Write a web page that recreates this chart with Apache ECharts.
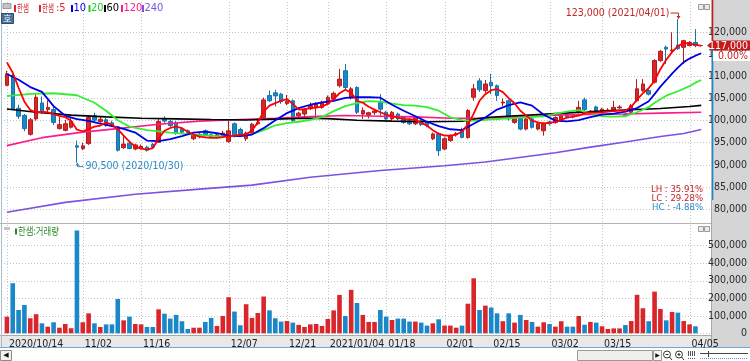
<!DOCTYPE html>
<html><head><meta charset="utf-8">
<script src="https://cdn.jsdelivr.net/npm/echarts@6/dist/echarts.min.js"></script>
<style>html,body{margin:0;padding:0;background:#fff;}#c{width:750px;height:361px;}</style>
</head><body><div id="c"></div>
<script>
// ---------------- DATA ----------------
const dates = [
'2020/10/14','2020/10/15','2020/10/16','2020/10/19','2020/10/20','2020/10/21','2020/10/22','2020/10/23','2020/10/26','2020/10/27','2020/10/28','2020/10/29','2020/10/30',
'2020/11/02','2020/11/03','2020/11/04','2020/11/05','2020/11/06','2020/11/09','2020/11/10','2020/11/11','2020/11/12','2020/11/13','2020/11/16','2020/11/17','2020/11/18','2020/11/19','2020/11/20','2020/11/23','2020/11/24','2020/11/25','2020/11/26','2020/11/27','2020/11/30',
'2020/12/01','2020/12/02','2020/12/03','2020/12/04','2020/12/07','2020/12/08','2020/12/09','2020/12/10','2020/12/11','2020/12/14','2020/12/15','2020/12/16','2020/12/17','2020/12/18','2020/12/21','2020/12/22','2020/12/23','2020/12/24','2020/12/28','2020/12/29','2020/12/30',
'2021/01/04','2021/01/05','2021/01/06','2021/01/07','2021/01/08','2021/01/11','2021/01/12','2021/01/13','2021/01/14','2021/01/15','2021/01/18','2021/01/19','2021/01/20','2021/01/21','2021/01/22','2021/01/25','2021/01/26','2021/01/27','2021/01/28','2021/01/29',
'2021/02/01','2021/02/02','2021/02/03','2021/02/04','2021/02/05','2021/02/08','2021/02/09','2021/02/10','2021/02/15','2021/02/16','2021/02/17','2021/02/18','2021/02/19','2021/02/22','2021/02/23','2021/02/24','2021/02/25','2021/02/26',
'2021/03/02','2021/03/03','2021/03/04','2021/03/05','2021/03/08','2021/03/09','2021/03/10','2021/03/11','2021/03/12','2021/03/15','2021/03/16','2021/03/17','2021/03/18','2021/03/19','2021/03/22','2021/03/23','2021/03/24','2021/03/25','2021/03/26','2021/03/29','2021/03/30','2021/03/31',
'2021/04/01','2021/04/02','2021/04/05','2021/04/06','2021/04/07'];

const opens = [108000,110200,102800,101200,96900,100400,104000,102500,102500,98200,97800,98500,94300,93700,94800,101100,99800,100200,99500,98600,
93900,94900,93600,93800,94000,94600,95100,100400,99800,99600,98100,97700,95900,96500,97700,96800,96300,96500,95300,99300,
98000,95900,97100,99300,100700,105700,106300,106000,103900,104500,101100,101500,102700,103000,103000,103800,104900,107900,111300,105300,
107500,101500,101200,101800,104100,101900,100400,101500,100700,100000,99300,100000,99600,95900,97000,93600,95500,96800,97700,96200,
105300,109000,106800,108700,107900,104000,104500,99600,100800,98100,100400,98100,97700,99700,99600,100000,101400,101100,101900,104700,
101700,103100,101900,102200,102300,102900,101500,101900,104500,106800,106800,108700,113600,116600,115800,117100,116600,117000,117700,117000];
const closes = [110600,102700,101000,98200,100200,105300,102000,103000,99600,99100,99300,99800,94000,94300,100700,100100,100300,99000,99000,93300,
94700,93700,94500,94200,93300,94000,99800,99900,98900,97200,97400,97300,96800,96900,96700,96400,96800,97200,97700,96600,
96800,97200,99200,99600,104700,104500,105600,104300,104400,100000,101700,102600,103400,103800,104100,105300,106200,109400,107500,107200,
101900,102300,101800,102200,102600,100400,101900,100400,99600,99300,100700,99100,98900,97000,93200,95900,96600,97100,96200,102300,
107200,107000,108300,107900,105700,104200,100400,100800,98100,100400,98500,99300,99300,99300,100700,101100,100900,100800,103000,102500,
102000,102300,102600,102400,103000,103100,101100,103400,107200,108300,106000,113600,115700,116200,116000,116300,118100,117700,117000,117000];
const lows = [107800,102400,100400,97600,96600,100000,101500,101700,99000,98000,97600,98200,90500,93300,94500,99800,99500,98600,98600,93000,
93600,93500,93300,93500,93000,93700,95000,99500,98600,96800,97000,96900,95600,96000,96400,96100,96000,96100,95000,96200,
96400,95400,96800,99000,100300,104200,103200,103800,103500,99500,100700,100500,102400,100500,102700,103500,104600,107500,107000,104800,
101500,100400,100500,101300,100800,100100,100100,100100,99300,99000,99000,98800,98500,95600,92000,93300,95200,96400,96000,95900,
104500,106500,106300,106000,104500,103300,100000,99300,97800,97800,98200,97800,96600,98900,99300,99700,100500,100500,101600,102200,
101400,102000,101600,101900,102000,102600,100800,101600,104200,106500,105700,108400,113300,112800,115500,116000,112800,116800,116600,117000];
const highs = [111300,110600,103600,101500,100600,106000,105500,104600,103500,100800,100200,100600,95500,95000,101200,101800,100800,100600,100000,98800,
96500,95200,94800,94600,94300,95000,100400,101000,100200,99900,98500,98000,97100,97200,98000,97100,97100,97700,100000,99600,
98400,97500,99500,100600,105200,106800,107000,106300,105800,104800,102000,102900,104100,104200,104500,105700,106600,111700,112800,107600,
107800,103000,102000,102500,106000,102200,102200,101800,101000,100300,101000,100300,99900,97300,97300,96200,96900,97400,98400,102600,
108300,109600,109200,110600,108200,105000,104800,101200,101000,100800,100700,99600,99600,100000,101000,101400,101700,101400,104500,105200,
102400,103400,102900,102800,104500,103500,101800,103800,109400,109400,107200,113900,116000,117000,120000,123000,118300,118000,120700,117000];
const volumes = [95000,286000,133000,162000,86000,109000,57000,38000,63000,32000,53000,29000,587000,63000,114000,57000,36000,51000,51000,196000,
74000,95000,53000,51000,36000,36000,137000,112000,84000,105000,69000,25000,32000,32000,65000,88000,42000,99000,206000,124000,
46000,166000,88000,116000,210000,131000,86000,67000,70000,61000,48000,36000,51000,53000,42000,82000,131000,219000,99000,248000,
173000,105000,65000,65000,133000,95000,76000,84000,84000,67000,67000,61000,44000,57000,80000,44000,44000,32000,44000,169000,
314000,133000,158000,147000,114000,69000,114000,61000,105000,76000,65000,38000,63000,53000,38000,69000,38000,38000,99000,49000,
65000,61000,40000,25000,28000,28000,47000,70000,220000,143000,69000,238000,139000,74000,122000,118000,70000,51000,40000,0];

// moving averages ([date index, value])
const ma5 = [113200,110850,107450,104300,102400,101900,102000,101900,101500,101100,100800,100000,97950,97600,98100,98650,98900,99550,99100,98100,
96600,95250,94100,93650,93450,93800,95900,97700,98350,98650,98300,97500,96850,96400,96200,96100,96100,96250,96500,96600,
96850,96850,97750,99600,102050,103400,103950,104500,104900,103800,102500,102600,102850,102950,103200,103800,104900,106200,107000,106350,
104500,104050,103150,102500,101900,101350,101000,100700,100400,100350,100100,99550,98850,97850,97050,96600,96600,96850,97500,99100,
101600,104500,106000,106900,107150,106450,105100,103950,102250,101150,100000,99600,99400,99550,99650,100200,100700,100900,101150,101700,
101800,101800,101900,102050,102150,102250,102250,103150,104750,106200,107350,109050,111650,113800,115500,116850,117650,117400,117200,116950];
const ma10 = [[0,110550],[2,109250],[4,107600],[6,106500],[8,103300],[10,101100],[12,100350],[14,99950],[16,99350],[18,98750],[20,98150],[22,97300],[24,95500],[26,95350],[28,95800],[30,96500],[32,97300],[34,97500],[36,97150],[38,96600],[40,96500],[42,96850],[44,98300],[46,100100],[48,101700],[50,102850],[52,103600],[54,104150],[56,104500],[58,105150],[60,105300],[62,105300],[64,105200],[66,103600],[68,102250],[70,101000],[72,99750],[74,98750],[76,98050],[78,97850],[80,99300],[82,100700],[84,102500],[86,103500],[88,104150],[90,103400],[92,101350],[94,100000],[96,99850],[98,100100],[100,100800],[102,101350],[104,101600],[106,102050],[108,102850],[110,104400],[111,106000],[112,107700],[113,109150],[114,110650],[115,112000],[116,113250],[117,114050],[118,114700],[119,115250]];
const ma20 = [[0,105550],[4,106050],[8,106200],[12,105750],[15,104050],[17,102250],[19,100100],[21,98650],[24,97850],[28,97300],[32,96850],[36,96500],[40,96500],[42,96950],[44,97850],[46,98950],[48,99450],[50,99750],[52,100200],[54,100800],[56,102150],[58,103300],[60,103950],[62,104400],[64,104300],[66,103850],[68,103500],[70,103400],[72,103050],[74,102250],[76,100750],[78,100100],[80,100000],[84,100350],[88,100700],[92,101000],[96,102050],[98,102400],[100,101700],[102,101000],[104,100900],[106,101000],[108,101900],[110,103050],[111,104050],[112,104850],[113,105650],[115,106650],[117,107800],[118,108600],[119,109200]];
const ma60 = [[0,102650],[5,101900],[11,101250],[17,100850],[23,100550],[29,100400],[35,100250],[41,100150],[46,100350],[51,100550],[55,100450],[60,100100],[66,99900],[72,99750],[78,99850],[82,100700],[88,101150],[94,101600],[100,102050],[106,102400],[112,102750],[117,103200],[119,103450]];
const ma120 = [[0,94350],[6,96150],[13,97400],[19,98200],[26,99200],[33,99900],[40,100250],[46,100550],[52,100900],[58,101150],[64,101000],[70,100850],[76,100550],[82,100550],[88,100900],[94,101250],[100,101400],[106,101500],[112,101700],[119,101900]];
const ma240 = [[0,79250],[10,81500],[22,83350],[33,84500],[42,85400],[52,87200],[64,88700],[75,89800],[82,90650],[94,92750],[100,94000],[106,95150],[112,96400],[116,97100],[119,98000]];

const tickDates = ['2020/10/14','2020/11/02','2020/11/16','2020/12/07','2020/12/21','2021/01/04','2021/01/18','2021/02/01','2021/02/15','2021/03/02','2021/03/15','2021/04/05'];
const tickTexts = ['2020/10/14','11/02','11/16','12/07','12/21','2021/01/04','01/18','02/01','02/15','03/02','03/15','04/05'];

// ---------------- STYLE ----------------
const FN = '"Liberation Sans Narrow","DejaVu Sans Condensed","Arial Narrow",sans-serif';
const KR = '"Noto Sans CJK KR","Noto Sans CJK SC",sans-serif';
const UP = '#d8262b', UPB = '#b31c1c', DN = '#1a88c8', DNB = '#1674ad';
const C5 = '#ff0000', C10 = '#0000e6', C20 = '#33ee33', C60 = '#000000', C120 = '#ff1a8c', C240 = '#7b52e2';
const GRID = '#c4c4c4';
const fmt = v => v.toLocaleString('en-US');

const cats = dates.concat(['']);
const candleData = dates.map((d, i) => [opens[i], closes[i], lows[i], highs[i]]);
const volData = volumes.map((v, i) => ({ value: v, itemStyle: { color: closes[i] >= opens[i] ? UP : DN } }));

const chart = echarts.init(document.getElementById('c'), null, { renderer: 'canvas' });

const yLabel = { color: '#2a2a2a', fontSize: 10.5, fontFamily: FN, align: 'right', margin: 37, formatter: v => fmt(v) };
const maLine = (name, data, color, w, z) => ({
  name, type: 'line', xAxisIndex: 0, yAxisIndex: 0, data, showSymbol: false, symbol: 'none',
  lineStyle: { color, width: w }, z, silent: true, animation: false
});

chart.setOption({
  animation: false,
  backgroundColor: '#ffffff',
  grid: [
    { left: 4, top: 10.2, width: 707, height: 220.9 },
    { left: 4, top: 228.2, width: 707, height: 105.1 }
  ],
  xAxis: [
    { type: 'category', gridIndex: 0, data: cats, boundaryGap: true, axisLine: { show: false }, axisTick: { show: false }, axisLabel: { show: false }, splitLine: { show: false } },
    { type: 'category', gridIndex: 1, data: cats, boundaryGap: true, axisLine: { show: false }, axisTick: { show: false }, splitLine: { show: false },
      axisLabel: { interval: (i, v) => tickDates.indexOf(v) >= 0, formatter: v => tickTexts[tickDates.indexOf(v)], align: 'left', padding: [0, 0, 0, 2], margin: 5, fontSize: 10.5, fontFamily: FN, color: '#222' } }
  ],
  yAxis: [
    { type: 'value', gridIndex: 0, position: 'right', min: 75000, max: 125000, interval: 5000, scale: false,
      axisLine: { show: false }, axisTick: { show: false },
      axisLabel: Object.assign({ showMinLabel: false, showMaxLabel: false }, yLabel),
      splitLine: { show: true, showMinLine: false, showMaxLine: false, lineStyle: { color: GRID, type: [1, 2], width: 1 } } },
    { type: 'value', gridIndex: 1, position: 'right', min: 0, max: 600000, interval: 100000,
      axisLine: { show: false }, axisTick: { show: false },
      axisLabel: Object.assign({ showMaxLabel: false }, yLabel),
      splitLine: { show: true, showMaxLine: false, lineStyle: { color: GRID, type: [1, 2], width: 1 } } }
  ],
  series: [
    { name: '한샘', type: 'candlestick', xAxisIndex: 0, yAxisIndex: 0, data: candleData, barWidth: 4, z: 2,
      itemStyle: { color: UP, color0: DN, borderColor: UPB, borderColor0: DNB, borderWidth: 1 }, silent: true },
    maLine('240', ma240, C240, 1.6, 3),
    maLine('120', ma120, C120, 1.6, 3),
    maLine('60', ma60, C60, 1.6, 3),
    maLine('20', ma20, C20, 1.8, 4),
    maLine('10', ma10, C10, 1.8, 4),
    maLine('5', ma5, C5, 1.8, 5),
    { name: '거래량', type: 'bar', xAxisIndex: 1, yAxisIndex: 1, data: volData, barWidth: 4.6, silent: true, z: 2 }
  ]
});

// ---------------- DECORATION (positions derived from the axes) ----------------
const P = (i, v) => chart.convertToPixel({ xAxisIndex: 0, yAxisIndex: 0 }, [i, v]);
const g = [];
const T = (text, x, y, o) => ({ type: 'text', x, y, scaleX: o.sx || 1, z: o.z || 60, silent: true,
  style: { text, x: 0, y: 0, fill: o.color || '#222', font: (o.size || 10) + 'px ' + (o.font || FN), textAlign: o.align || 'left', textVerticalAlign: 'middle' } });
const R = (x, y, w, h, fill, stroke, z) => ({ type: 'rect', silent: true, z: z === undefined ? -10 : z, shape: { x, y, width: w, height: h }, style: { fill: fill || 'none', stroke: stroke || null, lineWidth: 1 } });
const L = (x1, y1, x2, y2, stroke, z, w, dash) => ({ type: 'line', silent: true, z: z === undefined ? -5 : z, shape: { x1, y1, x2, y2 }, style: { stroke, lineWidth: w || 1, lineDash: dash || null } });

// panels
g.push(R(711, 0, 39, 348, '#d5d5d5', null, -10));
g.push(R(0, 336, 711, 11, '#e8e8e8', null, -10));
g.push(L(0, 223.5, 711, 223.5, '#b4b4b4', -4));
g.push(L(0, 335.5, 711, 335.5, '#a8a8a8', -4));
g.push(L(1.5, 0, 1.5, 348, '#a9bccf', -4));
g.push(L(711.5, 200, 711.5, 348, '#a8a8a8', -4));
g.push(L(0, 347.5, 750, 347.5, '#78a6d6', -4));

// vertical date grid lines
tickDates.forEach(d => {
  const x = Math.round(P(dates.indexOf(d), 100000)[0]) + 0.5;
  g.push(L(x, 2, x, 222, GRID, -5, 1, [1, 2]));
  g.push(L(x, 225, x, 335, GRID, -5, 1, [1, 2]));
});

// legend
g.push(R(3, 3.5, 8, 5, '#c4c4c4', '#9a9a9a', 60));
const leg = [['한샘', UP, 14, KR], ['한샘', UP, 39, KR], ['10', C10, 71, FN], ['20', '#22cc22', 88.5, FN], ['60', '#000', 104, FN], ['120', C120, 121, FN], ['240', C240, 142, FN]];
leg.forEach(([t, c, x, f]) => {
  g.push(R(x, 5, 2, 7, c, null, 60));
  if (f === KR) g.push(T(t, x + 3, 8.5, { color: c, size: 10.5, font: KR, sx: 0.62 }));
  else g.push(T(t, x + 2.5, 8.5, { color: c, size: 11 }));
});
g.push(T(':5', 56, 8.5, { color: UP, size: 11 }));
g.push(R(1.5, 13.5, 12, 10, '#4d729c', '#2d4d74', 60));
g.push(T('호', 7.5, 18.5, { color: '#fff', size: 9, font: KR, align: 'center' }));
// volume legend
g.push(R(4, 227, 6, 3, '#c4c4c4', null, 60));
g.push(R(15, 228.5, 2, 6, '#2a8a2a', null, 60));
g.push(T('한샘:거래량', 18, 231.5, { color: '#2a8a2a', size: 10.5, font: KR, sx: 0.8 }));
// pane buttons
[[698, 4], [704, 4], [698, 226], [704, 226]].forEach(([x, y]) => g.push(R(x + 0.5, y + 0.5, 5, 5, '#ececec', '#9a9a9a', 60)));

// range line on price axis + current price box
const last = closes.length - 1;
const pc = P(last, closes[last]);
g.push(L(712.5, 0, 712.5, pc[1] - 2, '#c41c1c', 55, 1.6));
g.push(L(712.5, pc[1] + 4, 712.5, 200, '#1a88c8', 55, 1.6));
g.push({ type: 'polygon', silent: true, z: 60, shape: { points: [[707, pc[1]], [713, pc[1] - 5], [750, pc[1] - 5], [750, pc[1] + 5], [713, pc[1] + 5]] }, style: { fill: '#c41c1c' } });
g.push(T(fmt(closes[last]), 748, pc[1] + 0.5, { color: '#fff', size: 10.5, align: 'right', z: 61 }));
g.push(R(713, pc[1] + 5.5, 37, 10, '#ffffff', null, 60));
const chg = ((closes[last] - closes[last - 1]) / closes[last - 1] * 100).toFixed(2) + '%';
g.push(T(chg, 748, pc[1] + 10.5, { color: '#c41c1c', size: 10.5, align: 'right', z: 61 }));

// high / low annotations
let iH = 0, iL = 0;
highs.forEach((h, i) => { if (h > highs[iH]) iH = i; });
lows.forEach((l, i) => { if (l < lows[iL]) iL = i; });
const ph = P(iH, highs[iH]);
const hx = Math.round(ph[0]) + 0.5, hy = ph[1];
g.push(T(fmt(highs[iH]) + ' (' + dates[iH] + ')', hx - 9, hy - 6, { color: '#c42424', size: 10.5, align: 'right' }));
g.push({ type: 'polyline', silent: true, z: 60, shape: { points: [[hx - 8, hy - 6], [hx, hy - 6], [hx, hy - 1]] }, style: { stroke: '#c42424', lineWidth: 1, fill: null } });
g.push({ type: 'polygon', silent: true, z: 60, shape: { points: [[hx - 2, hy - 3], [hx + 2, hy - 3], [hx, hy]] }, style: { fill: '#c42424' } });
const pl = P(iL, lows[iL]);
const lx = Math.round(pl[0]) + 0.5, ly = pl[1];
g.push(T(fmt(lows[iL]) + ' (' + dates[iL] + ')', lx + 8, ly + 4, { color: '#2a8ac8', size: 10.5 }));
g.push({ type: 'polyline', silent: true, z: 60, shape: { points: [[lx, ly + 1], [lx, ly + 4], [lx + 6, ly + 4]] }, style: { stroke: '#2a8ac8', lineWidth: 1, fill: null } });
g.push({ type: 'polygon', silent: true, z: 60, shape: { points: [[lx - 2, ly + 3], [lx + 2, ly + 3], [lx, ly]] }, style: { fill: '#2a8ac8' } });

// LH / LC / HC
const H = highs[iH], Lo = lows[iL], Cl = closes[last];
const pct = v => (v * 100).toFixed(2) + '%';
g.push(T('LH : ' + pct((H - Lo) / Lo), 703, 190, { color: '#c42424', size: 9.5, align: 'right' }));
g.push(T('LC : ' + pct((Cl - Lo) / Lo), 703, 199, { color: '#c42424', size: 9.5, align: 'right' }));
g.push(T('HC : ' + pct((Cl - H) / H), 703, 208, { color: '#2a8ac8', size: 9.5, align: 'right' }));

// bottom scroll bar
g.push(R(0.5, 350.5, 11, 10, '#f2f2f2', '#8c8c8c', 60));
g.push(T('◀', 6, 355.5, { color: '#111', size: 7, font: 'DejaVu Sans', align: 'center', z: 61 }));
g.push(R(577.5, 350.5, 75, 10, '#efefef', '#9a9a9a', 60));
g.push(R(653.5, 350.5, 8, 10, '#f7f7f7', '#9a9a9a', 60));
g.push(T('▶', 657.5, 355.5, { color: '#111', size: 6, font: 'DejaVu Sans', align: 'center', z: 61 }));
[667, 679].forEach((cx, k) => {
  g.push({ type: 'circle', silent: true, z: 60, shape: { cx, cy: 354.5, r: 3.5 }, style: { stroke: '#333', fill: '#fff', lineWidth: 1 } });
  g.push(L(cx + 2.5, 357, cx + 5, 360, '#333', 60));
  g.push(L(cx - 1.5, 354.5, cx + 1.5, 354.5, '#333', 60));
  if (k === 1) g.push(L(cx, 353, cx, 356, '#333', 60));
});
[688, 690, 692, 694].forEach(x => g.push(L(x + 0.5, 351, x + 0.5, 356, '#555', 60)));
g.push(L(688, 358.5, 696, 358.5, '#555', 60, 1, [1, 1]));
g.push(L(700, 353.5, 748, 353.5, '#444', 60));
g.push(L(708.5, 351, 708.5, 357, '#444', 60));
g.push(L(700, 358.5, 748, 358.5, '#6a8fc0', 60, 1, [1, 1]));

chart.setOption({ graphic: { elements: g } });
</script>
</body></html>
